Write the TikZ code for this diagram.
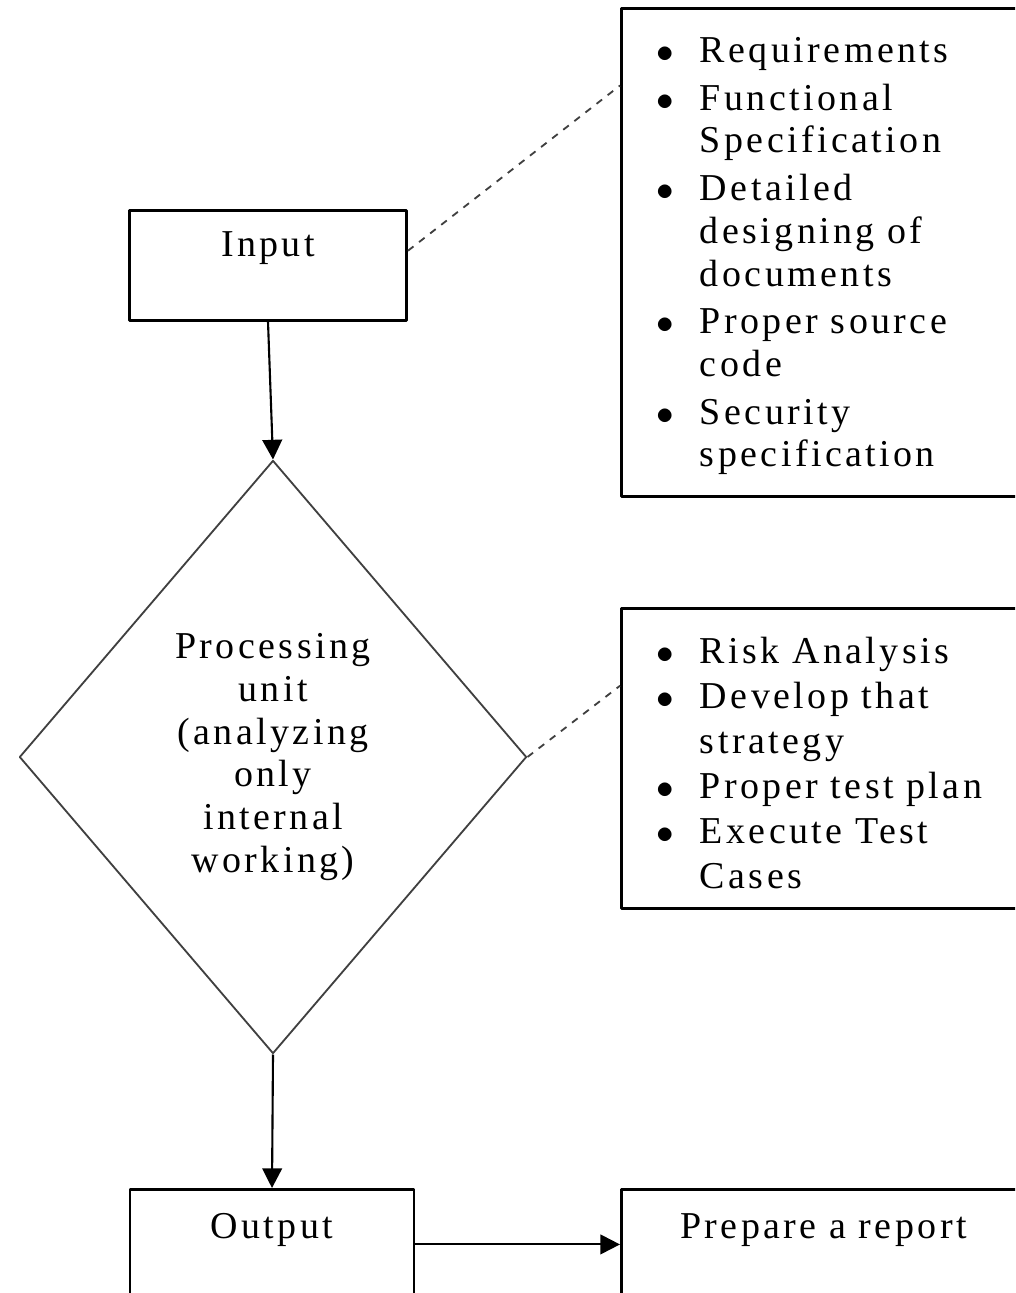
\documentclass[tikz,border=0pt]{standalone}
\usepackage{fontspec}
\setmainfont{Liberation Serif}
\newfontfamily\diagfont{Liberation Serif}[LetterSpace=9]
\usetikzlibrary{calc,shapes.geometric,arrows.meta}

\tikzset{
  box/.style={draw, line width=2pt, inner sep=0pt, align=center},
  listbox/.style={draw, line width=2pt, inner ysep=0pt, inner xsep=0.875cm,
    anchor=north west, text width=8.35cm, align=left},
  flowarrow/.style={-{Triangle[width=14pt,length=14pt]}, line width=1.5pt},
  linkline/.style={dash pattern=on 5pt off 5pt, line width=1.3pt, black!75},
}
\newcommand{\itemdot}{$\bullet$}

\begin{document}
\begin{tikzpicture}[x=0.025cm,y=-0.025cm,line join=round,
  font=\diagfont\fontsize{27}{30.4}\selectfont]

  \useasboundingbox (0,0) rectangle (1015,1293);
  \clip (0,0) rectangle (1015,1293);

  % 1. Input and what goes into it
  \node[box, anchor=north, text width=6.925cm, text height=1.15cm, text depth=1.6cm] (inbox) at (268,209) {Input};
  \node[listbox, text height=1.35cm, text depth=10.85cm] (reqbox) at (620,7) {%
    \begin{tabular}[t]{@{}c@{\hspace{18.5pt}}l@{}}
      \itemdot & Requirements\\[3.5pt]
      \itemdot & Functional\\
               & Specification\\[3.5pt]
      \itemdot & Detailed\\
               & designing of\\
               & documents\\[3.5pt]
      \itemdot & Proper source\\
               & code\\[3.5pt]
      \itemdot & Security\\
               & specification
    \end{tabular}};

  % 2. Processing unit and its steps
  \node[draw, diamond, line width=1.3pt, black!75, text=black, inner sep=0pt, minimum width=12.675cm, minimum height=14.825cm, align=center] (proc) at (273,757)
    {Processing\\unit\\(analyzing\\only\\internal\\working)};
  \node[listbox, text height=1.375cm, text depth=6.125cm] (testbox) at (620,607) {%
    \begin{tabular}[t]{@{}c@{\hspace{18.5pt}}l@{}}
      \itemdot & Risk Analysis\\[1.6pt]
      \itemdot & Develop that\\[1.6pt]
               & strategy\\[1.6pt]
      \itemdot & Proper test plan\\[1.6pt]
      \itemdot & Execute Test\\[1.6pt]
               & Cases
    \end{tabular}};

  % 3. Output and report
  \node[box, anchor=north, text width=7.1cm, text height=1.225cm, text depth=1.525cm] (outbox) at (272,1188) {Output};
  \node[box, anchor=north west, text width=10.1cm, text height=1.225cm, text depth=1.525cm] (report) at (620,1188) {Prepare a report};

  % connectors
  \draw[flowarrow] (inbox.south) -- (proc.north);
  \draw[flowarrow] (proc.south) -- (outbox.north);
  \draw[flowarrow] (outbox.east) -- (report.west);
  \draw[linkline] ($(inbox.north east)!0.37!(inbox.south east)$) -- ($(reqbox.north west)!0.16!(reqbox.south west)$);
  \draw[linkline] (proc.east) -- ($(testbox.north west)!0.26!(testbox.south west)$);

\end{tikzpicture}
\end{document}
